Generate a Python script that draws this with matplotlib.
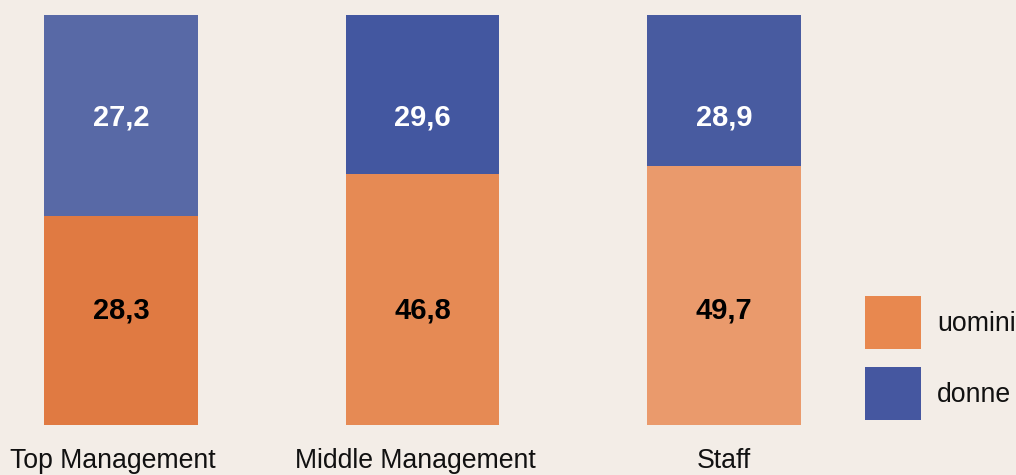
import matplotlib
matplotlib.use("Agg")
import matplotlib.pyplot as plt
from matplotlib.patches import Rectangle

plt.rcParams['font.family'] = ['Liberation Sans', 'DejaVu Sans']

categories = ['Top Management', 'Middle Management', 'Staff']
uomini = [28.3, 46.8, 49.7]
donne = [27.2, 29.6, 28.9]
series_names = ['uomini', 'donne']

# the watercolour fill differs a bit from bar to bar
orange_bars = ['#E07A42', '#E68A54', '#EA9A6C']
blue_bars = ['#5869A6', '#4357A0', '#485BA0']
orange = '#E8884F'
blue = '#4557A0'
bg = '#F3EDE7'

# share of each group, so every bar reaches 100
tot = [u + d for u, d in zip(uomini, donne)]
u_pct = [u / t * 100 for u, t in zip(uomini, tot)]
d_pct = [d / t * 100 for d, t in zip(donne, tot)]

fig = plt.figure(figsize=(10.16, 4.75), dpi=100, facecolor=bg)
ax = fig.add_axes([0, 50 / 475, 1, 410 / 475])
ax.set_facecolor(bg)

x = list(range(len(categories)))
ax.bar(x, u_pct, width=0.51, color=orange_bars)
ax.bar(x, d_pct, width=0.51, bottom=u_pct, color=blue_bars)

fmt = lambda v: f'{v:.1f}'.replace('.', ',')
label_shift = [-0.026, -0.023, 0.0]  # category names sit a touch left
for i in x:
    ax.text(i, 28.0, fmt(uomini[i]), ha='center', va='center',
            fontsize=21, fontweight='bold', color='black')
    ax.text(i, 75.1, fmt(donne[i]), ha='center', va='center',
            fontsize=21, fontweight='bold', color='white')
    ax.text(i + label_shift[i], -10.4, categories[i], ha='center',
            va='baseline', fontsize=19.2, color='#111111', clip_on=False)

ax.set_xlim(-0.401, 2.968)
ax.set_ylim(0, 100)
ax.axis('off')

# legend drawn by hand: big square swatches
W, H = 1016, 475
for k, (name, col) in enumerate(zip(series_names, [orange, blue])):
    top = 296 + k * 71
    fig.patches.append(Rectangle((865 / W, 1 - (top + 53) / H), 56 / W, 53 / H,
                                 transform=fig.transFigure, facecolor=col))
    fig.text(937 / W, 1 - (top + 28) / H, name, ha='left', va='center',
             fontsize=19.2, color='#111111')

fig.savefig('out.png', dpi=100, facecolor=bg)
